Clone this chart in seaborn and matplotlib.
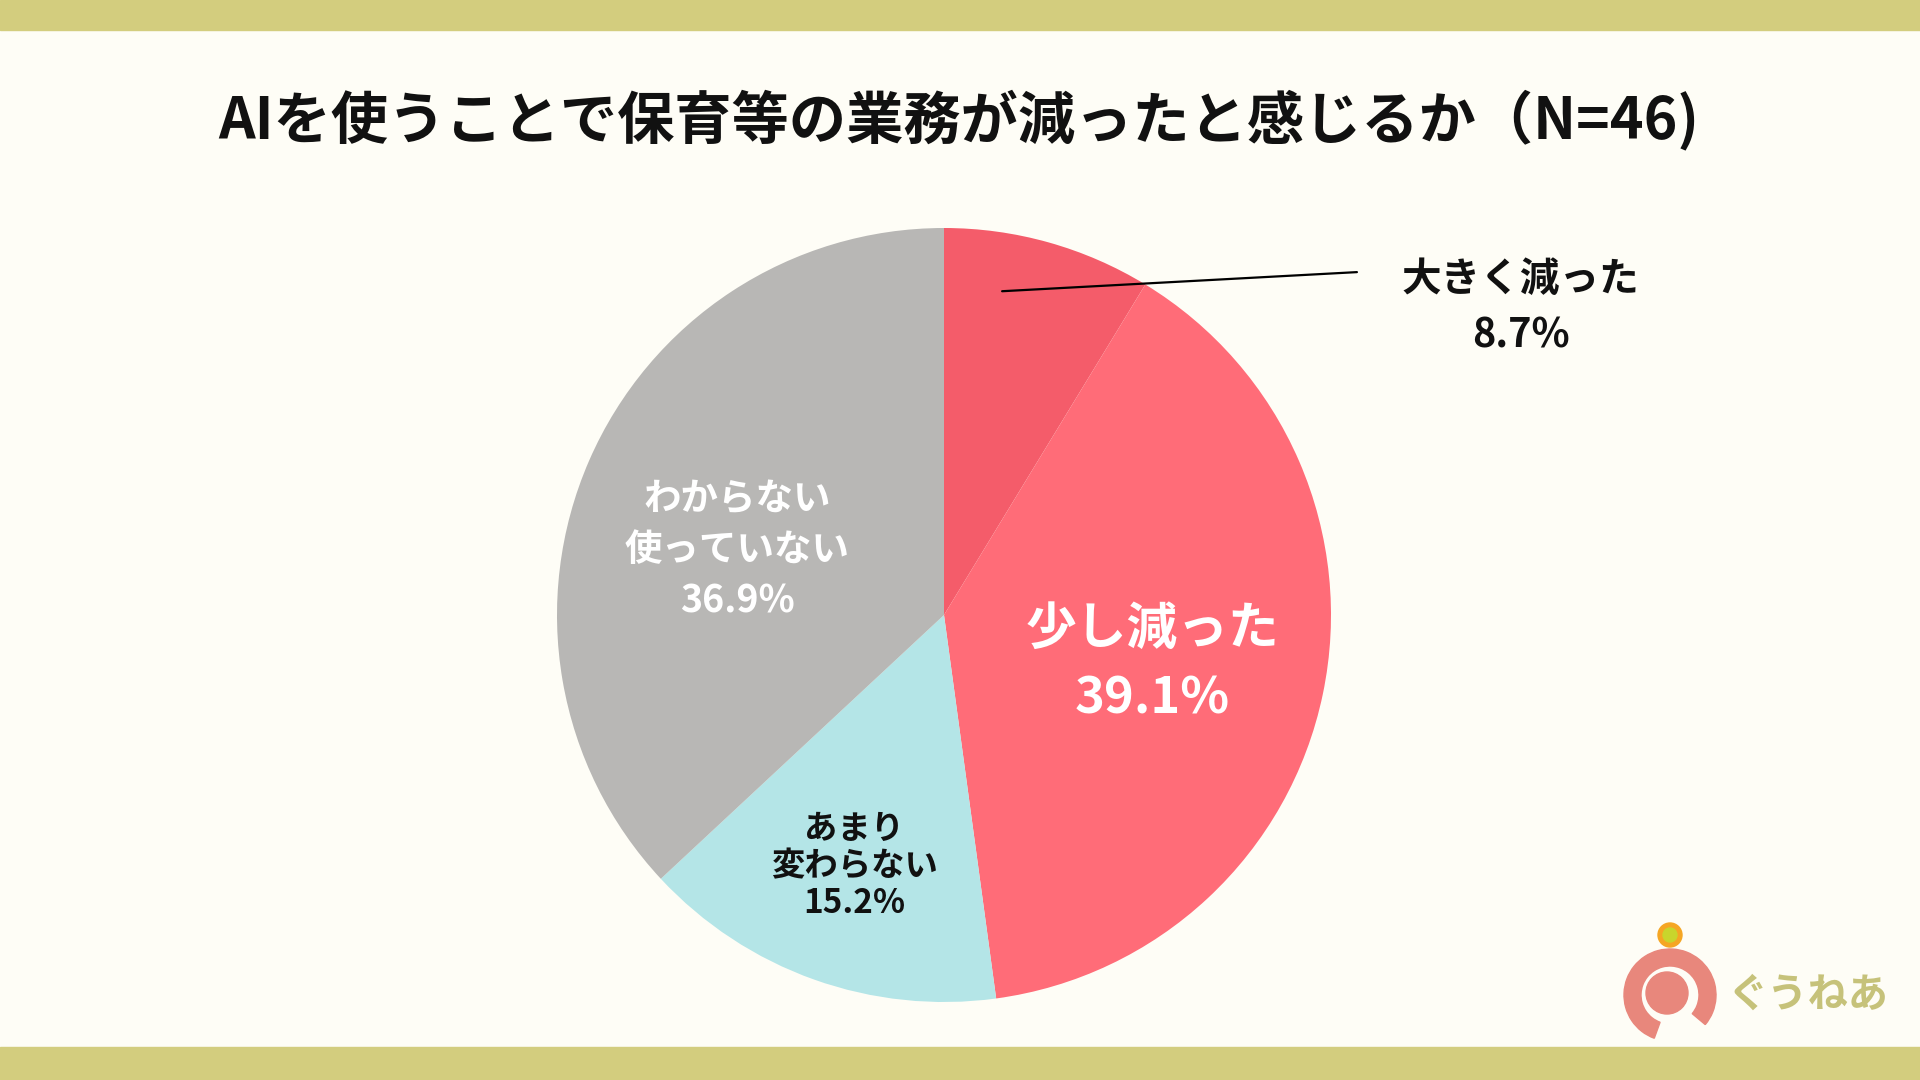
import numpy as np
import seaborn as sns
import matplotlib.pyplot as plt
from matplotlib.patches import Rectangle, Circle, Wedge

# data
labels = ['大きく減った', '少し減った', 'あまり\n変わらない', 'わからない\n使っていない']
values = [8.7, 39.1, 15.2, 36.9]
colors = ['#f45c6a', '#ff6c78', '#b4e5e7', '#b8b7b5']
title = 'AIを使うことで保育等の業務が減ったと感じるか（N=46)'

sns.set_theme(style='white')
plt.rcParams['font.family'] = ['Noto Sans CJK JP', 'DejaVu Sans']

bg = '#fefdf6'
band = '#d3cd7e'

fig = plt.figure(figsize=(19.2, 10.8), dpi=100)
fig.patch.set_facecolor(bg)

# top and bottom bands
fig.patches.append(Rectangle((0, 1 - 30 / 1080), 1, 30 / 1080, transform=fig.transFigure,
                             color=band, zorder=0))
fig.patches.append(Rectangle((0, 0), 1, 33 / 1080, transform=fig.transFigure,
                             color=band, zorder=0))

fig.text(0.4995, 1 - 120 / 1080, title, ha='center', va='center',
         fontsize=41.2, fontweight='bold', color='#111111')

# pie
cx, cy, r = 944, 615, 387
ax = fig.add_axes([(cx - r) / 1920, (1080 - cy - r) / 1080, 2 * r / 1920, 2 * r / 1080])
ax.axis('off')
wedges, _ = ax.pie(values, colors=colors, startangle=90, counterclock=False,
                   wedgeprops=dict(linewidth=0), radius=1)
ax.set_xlim(-1, 1)
ax.set_ylim(-1, 1)

mids = [np.deg2rad((w.theta1 + w.theta2) / 2) for w in wedges]


def pos(i, rad, shift=0.0):
    a = mids[i] + np.deg2rad(shift)
    return rad * np.cos(a), rad * np.sin(a)


# 大きく減った : leader line to outside label
sx, sy = pos(0, 0.85, 5.5)
ax.plot([sx, 1.067], [sy, 0.886], color='black', lw=1.6, clip_on=False)
ax.text(1.49, 0.868, labels[0], ha='center', va='center', fontsize=28.5,
        fontweight='bold', color='#111111', clip_on=False)
ax.text(1.49, 0.722, f'{values[0]}%', ha='center', va='center', fontsize=28.5,
        fontweight='bold', color='#111111', clip_on=False)

# 少し減った
x, y = pos(1, 0.55)
ax.text(x, y + 0.075, labels[1], ha='center', va='center', fontsize=36.5,
        fontweight='bold', color='white')
ax.text(x, y - 0.105, f'{values[1]}%', ha='center', va='center', fontsize=36.5,
        fontweight='bold', color='white')

# あまり変わらない
x, y = pos(2, 0.69)
ax.text(x, y, f'{labels[2]}\n{values[2]}%', ha='center', va='center', fontsize=24,
        fontweight='bold', color='#111111', linespacing=1.15)

# わからない 使っていない
x, y = pos(3, 0.56)
ax.text(x - 0.02, y - 0.055, f'{labels[3]}\n{values[3]}%', ha='center', va='center',
        fontsize=27, fontweight='bold', color='white', linespacing=1.39)

# logo
lax = fig.add_axes([1620 / 1920, 30 / 1080, 280 / 1920, 140 / 1080])
lax.set_xlim(0, 280)
lax.set_ylim(0, 140)
lax.axis('off')
lax.add_patch(Wedge((50, 55), 46, -40, 250, width=17, color='#e8877c'))
lax.add_patch(Circle((47, 57), 21, color='#e8877c'))
lax.add_patch(Circle((50, 115), 12, color='#f5a623'))
lax.add_patch(Circle((50, 115), 7, color='#c9d52c'))
lax.text(188, 55, 'ぐうねあ', ha='center', va='center', fontsize=29,
         fontweight='bold', color='#c6c27a')

fig.savefig('out.png', dpi=100, facecolor=bg)
